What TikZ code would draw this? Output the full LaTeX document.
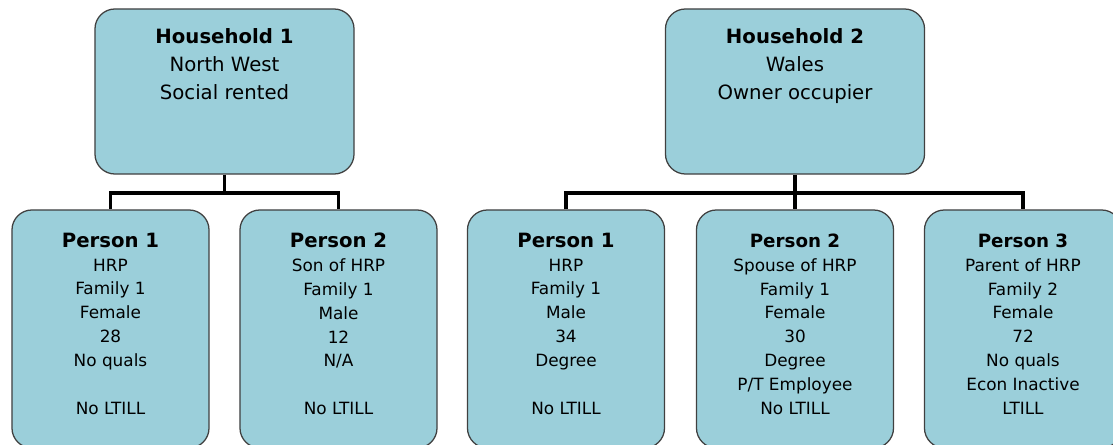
\documentclass[tikz,border=0pt]{standalone}
\usepackage{fontspec}
\setmainfont{DejaVu Sans}
\usepackage{tikz}
\usetikzlibrary{positioning}
\definecolor{boxfill}{RGB}{155,207,218}
\definecolor{boxline}{RGB}{64,64,64}

\begin{document}
\begin{tikzpicture}[
    x=0.025cm, y=-0.025cm,
    % Box style for household cells
    hhbox/.style={rectangle, rounded corners=0.5cm, draw=boxline, line width=0.9pt, fill=boxfill, minimum width=6.475cm, minimum height=4.125cm, inner sep=0pt},
    % Box style for person cells
    pbox/.style={rectangle, rounded corners=0.5cm, draw=boxline, line width=0.9pt, fill=boxfill, minimum width=4.925cm, minimum height=5.95cm, inner sep=0pt},
    % Text styles
    hhtxt/.style={align=center, inner sep=0pt, font=\fontsize{14}{20}\selectfont},
    ptxt/.style={align=center, inner sep=0pt, font=\fontsize{12}{17}\selectfont},
    % Tree connector style
    link/.style={line width=2.8pt, line join=miter}
]
    \useasboundingbox (0,0) rectangle (1113,445);

    % --- HOUSEHOLD 1 (Left) ---
    \node[hhbox] (hh1) at (224.5, 91.5) {};
    \node[hhtxt, below=0.5cm of hh1.north] (hh1txt) {\textbf{Household 1}\\North West\\Social rented};

    \node[pbox] (h1p1) at (110.5, 329) {};
    \node[ptxt, below=0.58cm of h1p1.north] (h1p1txt) {{\fontsize{14}{19}\selectfont\bfseries Person 1}\\HRP\\Family 1\\Female\\28\\No quals\\\mbox{}\\No LTILL};

    \node[pbox] (h1p2) at (338.5, 329) {};
    \node[ptxt, below=0.58cm of h1p2.north] (h1p2txt) {{\fontsize{14}{19}\selectfont\bfseries Person 2}\\Son of HRP\\Family 1\\Male\\12\\N/A\\\mbox{}\\No LTILL};

    % Tree lines H1
    \coordinate (h1bar) at (224.5, 193);
    \draw[link] (hh1.south) -- (h1bar) -| (h1p1.north);
    \draw[link] (h1bar) -| (h1p2.north);

    % --- HOUSEHOLD 2 (Right) ---
    \node[hhbox] (hh2) at (795, 91.5) {};
    \node[hhtxt, below=0.5cm of hh2.north] (hh2txt) {\textbf{Household 2}\\Wales\\Owner occupier};

    \node[pbox] (h2p1) at (566, 329) {};
    \node[ptxt, below=0.58cm of h2p1.north] (h2p1txt) {{\fontsize{14}{19}\selectfont\bfseries Person 1}\\HRP\\Family 1\\Male\\34\\Degree\\\mbox{}\\No LTILL};

    \node[pbox] (h2p2) at (795, 329) {};
    \node[ptxt, below=0.6cm of h2p2.north] (h2p2txt) {{\fontsize{13}{17}\selectfont\bfseries Person 2}\\Spouse of HRP\\Family 1\\Female\\30\\Degree\\P/T Employee\\No LTILL};

    \node[pbox] (h2p3) at (1023, 329) {};
    \node[ptxt, below=0.6cm of h2p3.north] (h2p3txt) {{\fontsize{13}{17}\selectfont\bfseries Person 3}\\Parent of HRP\\Family 2\\Female\\72\\No quals\\Econ Inactive\\LTILL};

    % Tree lines H2
    \coordinate (h2bar) at (795, 193);
    \draw[link] (hh2.south) -- (h2bar);
    \draw[link] (h2p1.north) |- (h2bar) -| (h2p3.north);
    \draw[link] (h2bar) -- (h2p2.north);

\end{tikzpicture}
\end{document}
